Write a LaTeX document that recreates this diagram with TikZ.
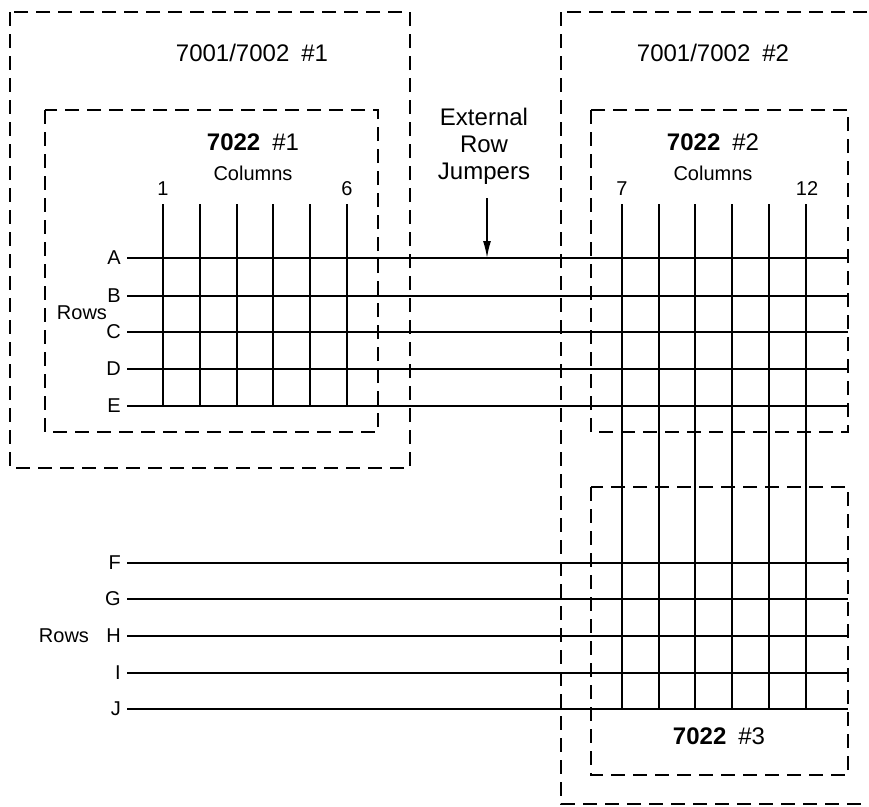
\documentclass[tikz,border=0pt]{standalone}
\usepackage{fontspec}
\setmainfont{Liberation Sans}
\usetikzlibrary{arrows.meta}

\begin{document}
\begin{tikzpicture}[x=1pt, y=-1pt,
  box/.style={draw, line width=1.5pt, dash pattern=on 14pt off 8pt},
  wire/.style={line width=1.7pt},
  big/.style={font=\fontsize{24}{28}\selectfont, inner sep=0pt},
  lab/.style={font=\fontsize{20}{24}\selectfont, inner sep=0pt},
  rowlab/.style={lab, anchor=east},
  jump/.style={-{Latex[length=17pt,width=8pt]}, line width=1.5pt}
]
  \useasboundingbox (0,0) rectangle (869,806);

  % Mainframe and card outlines
  \draw[box] (10,12) rectangle (410,468);
  \draw[box] (45,110) rectangle (378,432);
  \draw[box] (561,12) rectangle (890,804);
  \draw[box] (591,110) rectangle (848,432);
  \draw[box] (591,487) rectangle (848,775);

  % Titles
  \node[big] (mf1) at (252,53)  {7001/7002\enspace\#1};
  \node[big] (mf2) at (713,53)  {7001/7002\enspace\#2};
  \node[big] (cd1) at (253,142) {\textbf{7022}\enspace\#1};
  \node[big] (cd2) at (713,142) {\textbf{7022}\enspace\#2};
  \node[big] (cd3) at (719,736) {\textbf{7022}\enspace\#3};
  \node[lab] (col1) at (253,173) {Columns};
  \node[lab] (col2) at (713,173) {Columns};

  % Column numbers
  \node[lab] (n1)  at (163,189) {1};
  \node[lab] (n6)  at (347,189) {6};
  \node[lab] (n7)  at (622,189) {7};
  \node[lab] (n12) at (807,189) {12};

  % Rows A--E (card 1 and 2)
  \foreach \r/\y in {A/258, B/296, C/332, D/369, E/406} {
    \node[rowlab] (r\r) at (121,\y) {\r};
    \coordinate (e\r) at (848,\y);
    \draw[wire] (r\r.east) ++(6,0) -- (e\r);
  }
  % Rows F--J (card 3)
  \foreach \r/\y in {F/563, G/599, H/636, I/673, J/709} {
    \node[rowlab] (r\r) at (121,\y) {\r};
    \coordinate (e\r) at (848,\y);
    \draw[wire] (r\r.east) ++(6,0) -- (e\r);
  }
  \node[lab] (rows1) at (82,313) {Rows};
  \node[lab] (rows2) at (64,636) {Rows};

  % Columns 1--6
  \foreach \c/\x in {1/163, 2/200, 3/237, 4/273, 5/310, 6/347} {
    \coordinate (t\c) at (\x,204);
    \coordinate (b\c) at (\x,406);
    \draw[wire] (t\c) -- (b\c);
  }
  % Columns 7--12
  \foreach \c/\x in {7/622, 8/659, 9/695, 10/732, 11/769, 12/806} {
    \coordinate (t\c) at (\x,204);
    \coordinate (b\c) at (\x,709);
    \draw[wire] (t\c) -- (b\c);
  }

  % Jumpers
  \node[big, align=center, font=\fontsize{24}{27}\selectfont] (jmp) at (484,146)
    {External\\ Row\\ Jumpers};
  \coordinate (jA) at (487,258);
  \draw[jump] (487,198) -- (jA);
\end{tikzpicture}
\end{document}
